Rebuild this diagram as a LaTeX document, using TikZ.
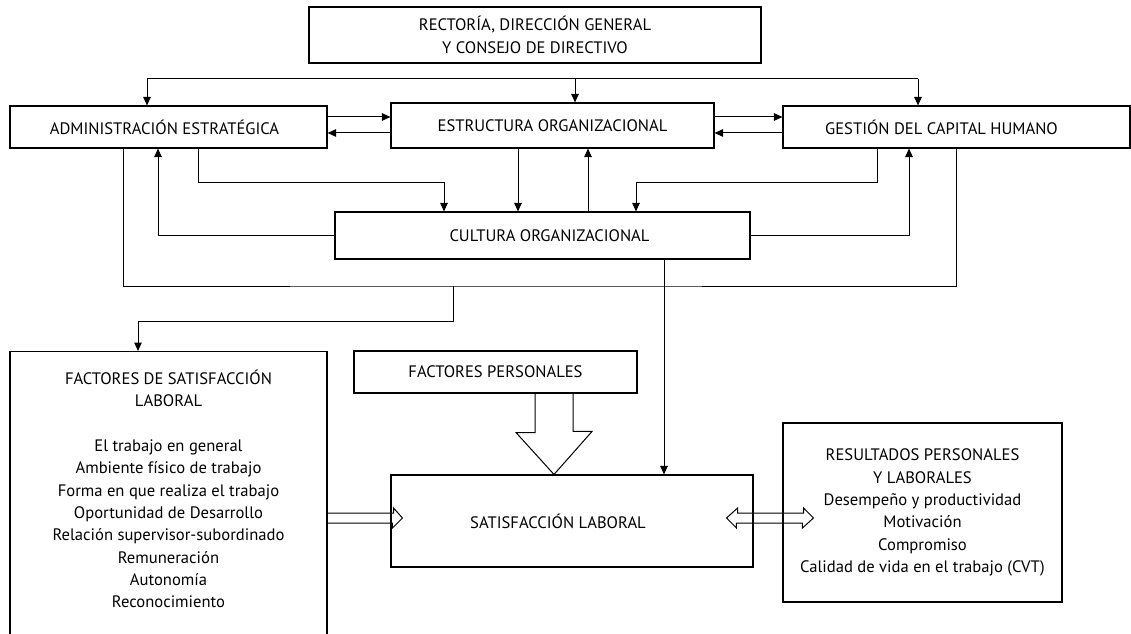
\documentclass[tikz,border=0pt]{standalone}
\usepackage{fontspec}
\setmainfont{PT Sans}
\usetikzlibrary{arrows.meta,positioning}
\begin{document}
\begin{tikzpicture}[x=1pt, y=1pt,
        box/.style = {draw, line width=1.1pt, align=center, inner sep=0pt,
                      font=\fontsize{16.6}{22.3}\selectfont},
        txt/.style = {align=center, inner sep=0pt, font=\fontsize{16.6}{22.3}\selectfont},
        arrow/.style = {line width=1pt, -{Triangle[length=8.5pt,width=7.5pt]}},
        hollow/.style = {line width=1pt, line join=miter}]
            \useasboundingbox (0,0) rectangle (1131,633);

            % Top level
            \node [box, minimum width=452pt, minimum height=56pt] (rect) at (535,598)
                {RECTORÍA, DIRECCIÓN GENERAL\\Y CONSEJO DE DIRECTIVO};

            \node [box, minimum width=317pt, minimum height=42pt] (adm) at (168.5,506) {\hspace*{-8pt}ADMINISTRACIÓN ESTRATÉGICA};
            \node [box, minimum width=323pt, minimum height=45pt] (est) at (552.5,507.5) {ESTRUCTURA ORGANIZACIONAL};
            \node [box, minimum width=347pt, minimum height=42pt] (ges) at (956.5,506) {\hspace*{-30pt}GESTIÓN DEL CAPITAL HUMANO};
            \node [box, minimum width=415pt, minimum height=47pt] (cult) at (542.5,397.5) {\hspace*{14pt}CULTURA ORGANIZACIONAL};

            \coordinate (topL) at (147,554);
            \coordinate (topM) at (575,554);
            \coordinate (topR) at (918,554);
            \draw[line width=1pt] (topL) -- (topR);
            \draw[arrow] (topL) -- (topL |- adm.north);
            \draw[arrow] (topM) -- (topM |- est.north);
            \draw[arrow] (topR) -- (topR |- ges.north);

            \draw[arrow] ([yshift=10pt]adm.east) -- ([yshift=10pt]adm.east -| est.west);
            \draw[arrow] ([yshift=-6pt]adm.east -| est.west) -- ([yshift=-6pt]adm.east);
            \draw[arrow] ([yshift=10pt]adm.east -| est.east) -- ([yshift=10pt]adm.east -| ges.west);
            \draw[arrow] ([yshift=-6pt]adm.east -| ges.west) -- ([yshift=-6pt]adm.east -| est.east);

            % Links with the culture
            \coordinate (ac) at (444,450);
            \coordinate (gc) at (636,450);
            \draw[arrow] ([xshift=29.5pt]adm.south) |- (ac) -- (ac |- cult.north);
            \draw[arrow] (cult.west) -| ([xshift=-10.5pt]adm.south);
            \draw[arrow] ([xshift=-34.5pt]est.south) -- ([xshift=-34.5pt]est.south |- cult.north);
            \draw[arrow] ([xshift=35.5pt]est.south |- cult.north) -- ([xshift=35.5pt]est.south);
            \draw[arrow] ([xshift=-79.5pt]ges.south) |- (gc) -- (gc |- cult.north);
            \draw[arrow] (cult.east) -| ([xshift=-47.5pt]ges.south);

            \coordinate (bot) at (453,347);
            \coordinate (fk) at (138,312);
            \draw[line width=1pt] ([xshift=-45.5pt]adm.south) |- (bot) -| (ges.south);

            % Bottom level
            \node [box, minimum width=317pt, minimum height=330pt, anchor=north] (fsl) at (168.5,282) {};
            \node [txt, below=19pt of fsl.north] (fsltext)
                {FACTORES DE SATISFACCIÓN\\LABORAL\\[22.3pt]El trabajo en general\\Ambiente físico de trabajo\\
                 Forma en que realiza el trabajo\\Oportunidad de Desarrollo\\Relación supervisor-subordinado\\
                 Remuneración\\Autonomía\\Reconocimiento};
            \node [box, minimum width=283pt, minimum height=42pt] (fp) at (495.5,261) {FACTORES PERSONALES};
            \node [box, minimum width=362pt, minimum height=92pt] (sat) at (572,112) {\hspace*{-28pt}SATISFACCIÓN LABORAL};
            \node [box, minimum width=279pt, minimum height=179pt] (res) at (922.5,120.5)
                {RESULTADOS PERSONALES\\Y LABORALES\\Desempeño y productividad\\Motivación\\Compromiso\\
                 Calidad de vida en el trabajo (CVT)};

            \draw[arrow] (bot) |- (fk) -- (fk |- fsl.north);
            \draw[arrow] ([xshift=121.5pt]cult.south) -- ([xshift=121.5pt]cult.south |- sat.north);

            % Hollow arrows
            \coordinate (bigtip) at ([xshift=-18pt]sat.north);
            \coordinate (ftip) at ([shift={(12pt,3pt)}]sat.west);
            \coordinate (dl) at ([shift={(-27pt,3pt)}]sat.east);
            \coordinate (dr) at ([shift={(31pt,-5.5pt)}]res.west);
            \draw[hollow] ([xshift=39.5pt]fp.south) -- ++(0,-39) -- ++(-19,0) -- (bigtip)
                -- ++(38,43) -- ++(-19,0) -- ([xshift=77.5pt]fp.south);
            \draw[hollow] (fsl.east |- ftip) ++(0,5) -- ++(66,0) -- ++(0,5) -- (ftip)
                -- ++(-10,-10) -- ++(0,5) -- ++(-66,0);
            \draw[hollow] (dl) -- ++(11,10) -- ++(0,-5) -- ++(66,0) -- ++(0,5) -- (dr)
                -- ++(-11,-10) -- ++(0,5) -- ++(-66,0) -- ++(0,-5) -- cycle;
        \end{tikzpicture}
\end{document}
